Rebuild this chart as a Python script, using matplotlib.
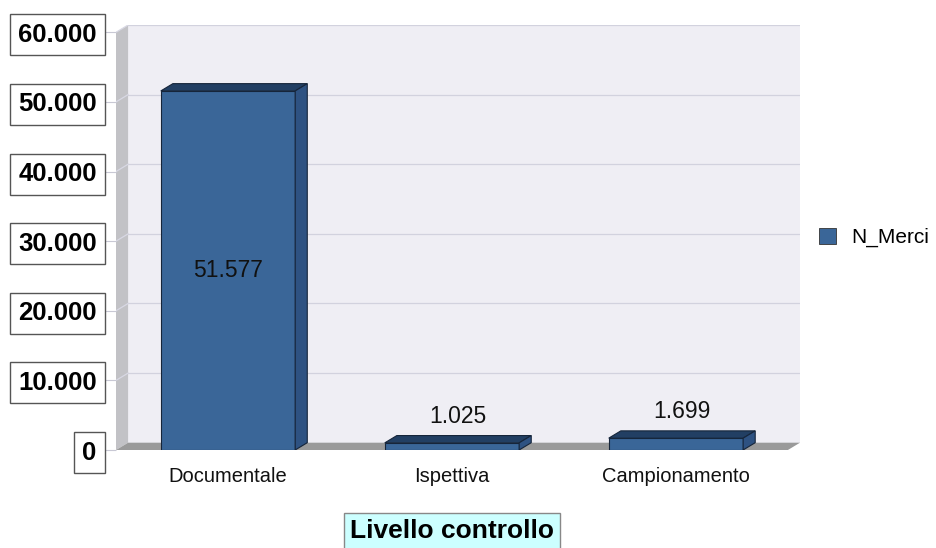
import matplotlib
matplotlib.use("Agg")
import matplotlib.pyplot as plt
from matplotlib.patches import Polygon, Patch
import numpy as np

plt.rcParams['font.family'] = ['Liberation Sans', 'DejaVu Sans']

categories = ["Documentale", "Ispettiva", "Campionamento"]
n_merci = [51577, 1025, 1699]
value_labels = ["51.577", "1.025", "1.699"]
y_ticks = [0, 10000, 20000, 30000, 40000, 50000, 60000]
y_tick_labels = ["0", "10.000", "20.000", "30.000", "40.000", "50.000", "60.000"]
series_name = "N_Merci"
x_title = "Livello controllo"

# 3d look: depth offset in data units
dx = 0.054
dy = 1050
bar_w = 0.6

front_col = "#3a6698"
top_col = "#223f63"
side_col = "#2e5282"
edge_col = "#16253a"

fig = plt.figure(figsize=(9.36, 5.48), dpi=100)
ax = fig.add_axes([116 / 936, 98 / 548, 684 / 936, 425 / 548])
ax.set_xlim(-0.5, 2.5 + dx)
ax.set_ylim(0, 60000 + dy)
for s in ax.spines.values():
    s.set_visible(False)
ax.patch.set_visible(False)

x0, x1 = -0.5, 2.5
ytop = y_ticks[-1]

# back wall, left wall, floor
ax.add_patch(Polygon([(x0 + dx, dy), (x1 + dx, dy), (x1 + dx, ytop + dy), (x0 + dx, ytop + dy)],
                     closed=True, facecolor="#efeef4", edgecolor="none", zorder=0))
ax.add_patch(Polygon([(x0, 0), (x0 + dx, dy), (x0 + dx, ytop + dy), (x0, ytop)],
                     closed=True, facecolor="#c2c2c6", edgecolor="none", zorder=1))
ax.add_patch(Polygon([(x0, 0), (x1, 0), (x1 + dx, dy), (x0 + dx, dy)],
                     closed=True, facecolor="#9a9a9a", edgecolor="none", zorder=1))

# gridlines on back wall and left wall
for yt in y_ticks[1:]:
    ax.plot([x0 + dx, x1 + dx], [yt + dy, yt + dy], color="#d2d2de", lw=0.9, zorder=0.5)
    ax.plot([x0, x0 + dx], [yt, yt + dy], color="#d8d8e4", lw=0.9, zorder=1.5)

# bars
xs = np.arange(len(categories))
ax.bar(xs, n_merci, width=bar_w, color=front_col, edgecolor=edge_col, linewidth=0.8, zorder=3)
for x, v in zip(xs, n_merci):
    l, r = x - bar_w / 2, x + bar_w / 2
    ax.add_patch(Polygon([(l, v), (r, v), (r + dx, v + dy), (l + dx, v + dy)], closed=True,
                         facecolor=top_col, edgecolor=edge_col, lw=0.8, zorder=3))
    ax.add_patch(Polygon([(r, 0), (r + dx, dy), (r + dx, v + dy), (r, v)], closed=True,
                         facecolor=side_col, edgecolor=edge_col, lw=0.8, zorder=3))

# value labels
for x, v, lab in zip(xs, n_merci, value_labels):
    if v > 10000:
        ax.text(x, v / 2, lab, ha="center", va="center", fontsize=16.5, color="#111111", zorder=5)
    else:
        ax.annotate(lab, (x + dx / 2, v + dy), xytext=(0, 5.5), textcoords="offset points",
                    ha="center", va="bottom", fontsize=16.5, color="#111111", zorder=5)

# axes ticks
ax.set_yticks(y_ticks)
ax.set_yticklabels(y_tick_labels, fontsize=18.5, fontweight="bold")
ax.tick_params(axis="y", length=9.4, color="#c8c8d4", pad=4.5)
for lbl in ax.get_yticklabels():
    lbl.set_bbox(dict(boxstyle="square,pad=0.33", facecolor="white", edgecolor="#555555", lw=1))

ax.set_xticks(xs)
ax.set_xticklabels(categories, fontsize=14.5, color="#111111")
ax.tick_params(axis="x", length=0, pad=12)

# legend
ax.legend(handles=[Patch(facecolor=front_col, edgecolor="#333333", lw=0.6, label=series_name)],
          loc="center left", bbox_to_anchor=(1.0, 0.5), frameon=False, fontsize=15,
          handlelength=0.85, handleheight=0.85, handletextpad=0.7)

# x title in a box
fig.text(452 / 936, 1 - 531 / 548, x_title, ha="center", va="center", fontsize=19,
         fontweight="bold", bbox=dict(boxstyle="square,pad=0.22", facecolor="#ccffff",
                                      edgecolor="#888888", lw=1))

fig.savefig("out.png", dpi=100)
